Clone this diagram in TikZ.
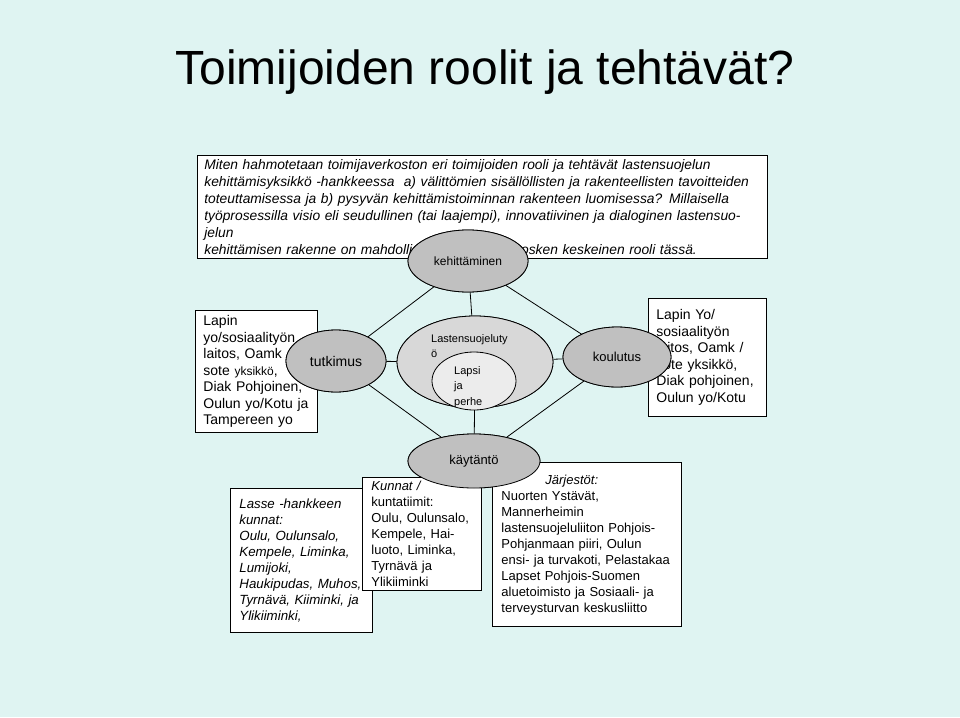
\documentclass[tikz,border=0pt]{standalone}
\usepackage{fontspec}
\setmainfont{Liberation Sans}
\usetikzlibrary{positioning,shapes.geometric}
\definecolor{bgcyan}{RGB}{223,244,242}
\definecolor{ovalgray}{RGB}{192,192,192}
\definecolor{midgray}{RGB}{216,216,216}
\definecolor{innergray}{RGB}{236,236,236}
\tikzset{
  textbox/.style={draw, fill=white, thick, anchor=north west, align=left,
    inner xsep=9pt, inner ysep=5pt, font=\fontsize{13}{16}\selectfont},
  oval/.style={ellipse, draw, thick, fill=ovalgray, font=\fontsize{13}{16}\selectfont},
  link/.style={thick}
}
\begin{document}
\begin{tikzpicture}[x=1pt,y=-1pt]
        \useasboundingbox[fill=bgcyan] (0,0) rectangle (960,717);

        % Title
        \node[anchor=base west, font=\fontsize{48}{54}\selectfont] (title) at (172,84) {Toimijoiden roolit ja tehtävät?};

        % Question box
        \node[textbox, text width=556, inner xsep=7pt, inner ysep=4pt, font=\fontsize{13.8}{17}\selectfont\itshape] (question) at (197,155)
        {Miten hahmotetaan toimijaverkoston eri toimijoiden rooli ja tehtävät lastensuojelun\\
         kehittämisyksikkö -hankkeessa\ \ a) välittömien sisällöllisten ja rakenteellisten tavoitteiden\\
         toteuttamisessa ja b) pysyvän kehittämistoiminnan rakenteen luomisessa? Millaisella\\
         työprosessilla visio eli seudullinen (tai laajempi), innovatiivinen ja dialoginen lastensuojelun\\
         kehittämisen rakenne on mahdollista saavuttaa?\ \ Posken keskeinen rooli tässä.};

        % Side boxes
        \node[textbox, text width=106, inner xsep=8pt, minimum height=118, font=\fontsize{14}{16.5}\selectfont] (leftbox) at (195,310)
        {Lapin\\ yo/sosiaalityön\\ laitos, Oamk\\ sote {\fontsize{12}{16}\selectfont yksikkö},\\ Diak Pohjoinen,\\ Oulun yo/Kotu ja\\ Tampereen yo};
        \node[textbox, text width=102, inner xsep=8pt, minimum height=118, font=\fontsize{14}{16.5}\selectfont] (rightbox) at (648,298)
        {Lapin Yo/\\ sosiaalityön\\ laitos, Oamk /\\ sote yksikkö,\\ Diak pohjoinen,\\ Oulun yo/Kotu};

        % Links
        \node[oval, minimum width=120, minimum height=62] (kehitys) at (468,261) {};
        \node[oval, minimum width=100, minimum height=62] (tutkimus) at (336,361) {};
        \node[oval, minimum width=108, minimum height=60] (koulutus) at (617,357) {};
        \node[oval, minimum width=132, minimum height=54] (kaytanto) at (474,461) {};
        \node[ellipse, draw, thick, fill=midgray, minimum width=156, minimum height=92] (lsuojelu) at (475,362) {};
        \draw[link] (kehitys) -- (tutkimus);
        \draw[link] (kehitys) -- (koulutus);
        \draw[link] (tutkimus) -- (kaytanto);
        \draw[link] (koulutus) -- (kaytanto);
        \draw[link] (kehitys) -- (lsuojelu);
        \draw[link] (lsuojelu) -- (kaytanto);
        \draw[link] (tutkimus) -- (lsuojelu);
        \draw[link] (lsuojelu) -- (koulutus);

        % Bottom boxes
        \node[textbox, text width=124, minimum height=144, font=\fontsize{13.3}{16}\selectfont\itshape] (lasse) at (230,488)
        {\\[-6pt]Lasse -hankkeen\\ kunnat:\\ Oulu, Oulunsalo,\\ Kempele, Liminka,\\ Lumijoki,\\ Haukipudas, Muhos,\\ Tyrnävä, Kiiminki, ja\\ Ylikiiminki,};
        \node[textbox, text width=101, inner ysep=4pt] (kunnat) at (362,477)
        {\textit{Kunnat /}\\ kuntatiimit:\\ Oulu, Oulunsalo,\\ Kempele, Hai-\\ luoto, Liminka,\\ Tyrnävä ja\\ Ylikiiminki};
        \node[textbox, text width=171, minimum height=164, inner ysep=4pt] (jarjestot) at (492,462)
        {\\[-6pt]\hspace*{44pt}\textit{Järjestöt:}\\ Nuorten Ystävät,\\ Mannerheimin\\ lastensuojeluliiton Pohjois-\\ Pohjanmaan piiri, Oulun\\ ensi- ja turvakoti, Pelastakaa\\ Lapset Pohjois-Suomen\\ aluetoimisto ja Sosiaali- ja\\ terveysturvan keskusliitto};

        % Ovals on top
        \node[oval, minimum width=120, minimum height=62, font=\fontsize{12}{14}\selectfont] at (kehitys) {kehittäminen};
        \node[oval, minimum width=100, minimum height=62, font=\fontsize{14}{16}\selectfont] at (tutkimus) {tutkimus};
        \node[oval, minimum width=108, minimum height=60] at (koulutus) {koulutus};
        \node[oval, minimum width=132, minimum height=54] at (kaytanto) {käytäntö};
        \node[ellipse, draw, thick, fill=midgray, minimum width=156, minimum height=92] at (lsuojelu) {};
        \node[anchor=north west, align=left, inner sep=0pt, font=\fontsize{11}{15}\selectfont] (lstext) at (431,334) {Lastensuojeluty\\ ö};
        \node[ellipse, draw, thick, fill=innergray, minimum width=84, minimum height=58] (lapsi) at (474,381) {};
        \node[anchor=north west, align=left, inner sep=0pt, font=\fontsize{11}{15.5}\selectfont] (lapsitext) at (454,366) {Lapsi\\ ja\\ perhe};
\end{tikzpicture}
\end{document}
